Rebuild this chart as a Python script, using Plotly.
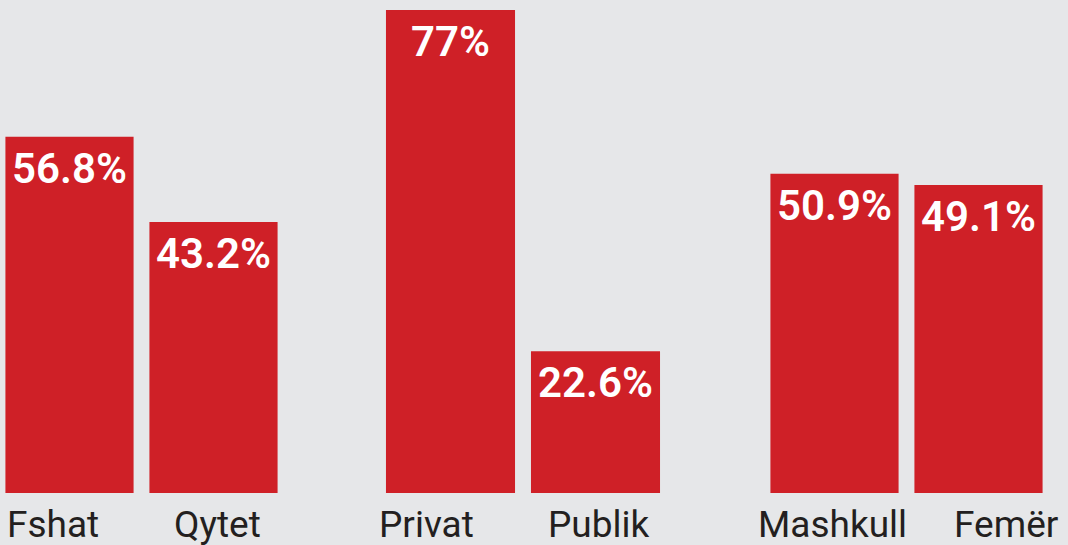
import plotly.graph_objects as go
from plotly.subplots import make_subplots

groups = [
    ["Fshat", "Qytet"],
    ["Privat", "Publik"],
    ["Mashkull", "Femër"],
]
values = [
    [56.8, 43.2],
    [77, 22.6],
    [50.9, 49.1],
]
labels = [
    ["56.8%", "43.2%"],
    ["77%", "22.6%"],
    ["50.9%", "49.1%"],
]

# style: horizontal nudges of the category labels (px)
label_nudge = [[-17, 4], [-24, 3], [-2, 27]]

BG = "#e6e7e9"
RED = "#cf2027"
W = 1068

fig = make_subplots(rows=1, cols=3, shared_yaxes=True, horizontal_spacing=0)

for i, (cats, vals, txt) in enumerate(zip(groups, values, labels)):
    fig.add_trace(
        go.Bar(
            x=cats, y=vals,
            marker=dict(color=RED, line=dict(width=0)),
            hoverinfo="skip", showlegend=False,
        ),
        row=1, col=i + 1,
    )
    xref = "x" if i == 0 else f"x{i + 1}"
    yref = "y" if i == 0 else f"y{i + 1}"
    for c, v, t, nx in zip(cats, vals, txt, label_nudge[i]):
        fig.add_annotation(
            x=c, y=v, xref=xref, yref=yref, text=t, showarrow=False,
            xanchor="center", yanchor="top", yshift=-5,
            font=dict(family="Roboto", size=42, color="white", weight=600),
        )
        fig.add_annotation(
            x=c, y=0, xref=xref, yref=yref, text=c, showarrow=False,
            xanchor="center", yanchor="top", yshift=-8, xshift=nx,
            font=dict(family="Roboto", size=37, color="#231f20"),
        )

# subplot domains (pixel edges / width)
doms = [(0, 285.5), (378, 668), (762.5, 1050.5)]
ranges = [[-0.5 + 2.5 / 144, 1.5], [-0.5, 1.5], [-0.5, 1.5]]
for i, (d, r) in enumerate(zip(doms, ranges)):
    ax = "xaxis" if i == 0 else f"xaxis{i + 1}"
    fig.layout[ax].update(
        domain=[d[0] / W, d[1] / W], range=r,
        showgrid=False, zeroline=False, showline=False,
        showticklabels=False, ticks="", fixedrange=True,
    )
for i in range(3):
    ay = "yaxis" if i == 0 else f"yaxis{i + 1}"
    fig.layout[ay].update(range=[0, 78.6], visible=False, fixedrange=True)

fig.update_layout(
    width=W, height=545,
    margin=dict(l=0, r=0, t=0, b=52),
    paper_bgcolor=BG, plot_bgcolor=BG,
    bargap=0.11,
)

fig.write_html(
    "out.html",
    config={"displayModeBar": False},
    post_script="document.body.style.margin='0';document.body.style.overflow='hidden';",
)
